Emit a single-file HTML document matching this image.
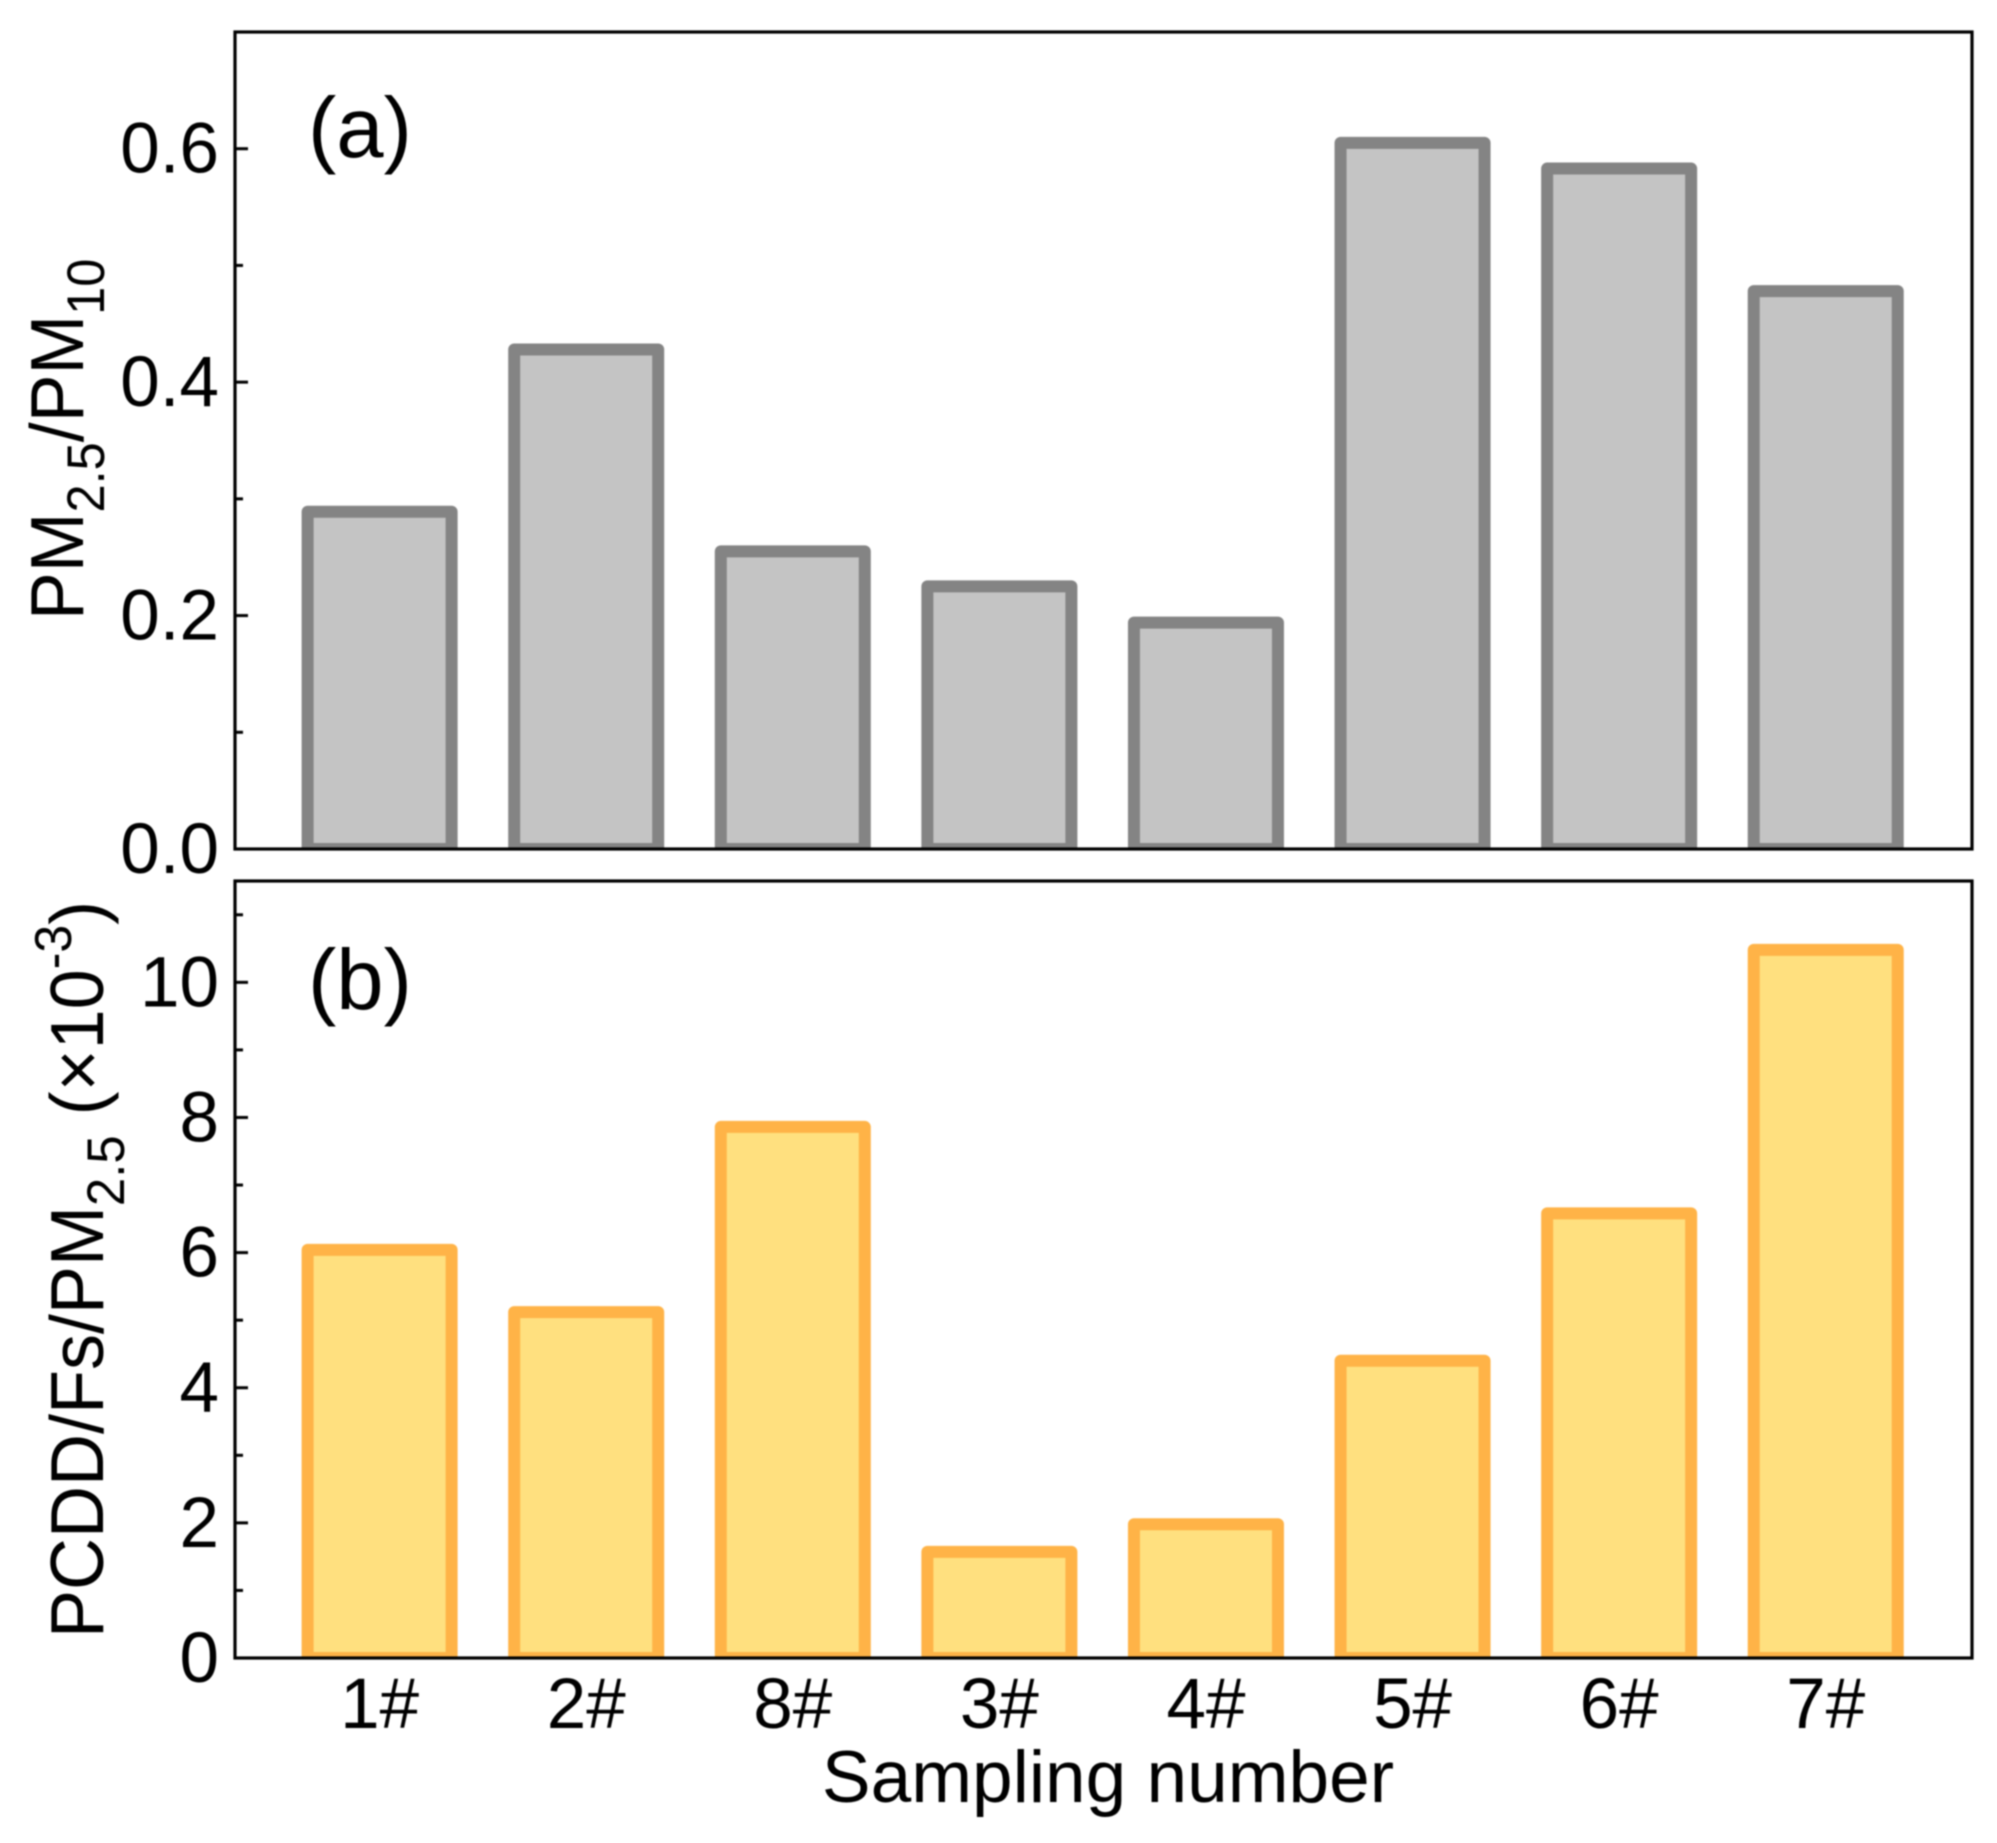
<!DOCTYPE html>
<html>
<head>
<meta charset="utf-8">
<title>PM ratio bar charts</title>
<style>
html,body{margin:0;padding:0;background:#fff;}
svg{display:block;filter:blur(0.7px);}
text{font-family:"Liberation Sans",sans-serif;fill:#000;}
</style>
</head>
<body>
<svg id="chart" xmlns="http://www.w3.org/2000/svg" width="1997" height="1843" viewBox="0 0 1997 1843">
  <rect width="1997" height="1843" fill="#ffffff"/>
  <defs>
    <clipPath id="clip-a"><rect x="235" y="32" width="1737" height="817"/></clipPath>
    <clipPath id="clip-b"><rect x="235" y="881" width="1737" height="777"/></clipPath>
  </defs>
  <g id="layer-bars"></g>
  <g id="layer-axes"></g>
  <text x="308" y="157" font-size="85">(a)</text>
  <text x="308" y="1009" font-size="85">(b)</text>
  <text transform="translate(83,620) rotate(-90) scale(0.955,1)" font-size="75">PM<tspan font-size="53" dy="21">2.5</tspan><tspan dy="-21">/PM</tspan><tspan font-size="53" dy="21">10</tspan></text>
  <text transform="translate(103,1638) rotate(-90) scale(0.96,1)" font-size="75">PCDD/Fs/PM<tspan font-size="53" dy="21">2.5</tspan><tspan dy="-21"> (×10</tspan><tspan font-size="52" dy="-32">-3</tspan><tspan dy="32">)</tspan></text>
  <text x="1108" y="1802" font-size="73" text-anchor="middle">Sampling number</text>
</svg>
<script>
const categories = ['1#', '2#', '8#', '3#', '4#', '5#', '6#', '7#'];
const ratioValues = [0.289, 0.428, 0.255, 0.225, 0.194, 0.605, 0.583, 0.478];
const pcddValues = [6.04, 5.12, 7.86, 1.57, 1.98, 4.40, 6.58, 10.48];
const ratioMajorTicks = [0, 0.2, 0.4, 0.6];
const ratioMinorTicks = [0.1, 0.3, 0.5];
const ratioTickLabels = ['0.0', '0.2', '0.4', '0.6'];
const pcddMajorTicks = [0, 2, 4, 6, 8, 10];
const pcddMinorTicks = [1, 3, 5, 7, 9, 11];
const pcddTickLabels = ['0', '2', '4', '6', '8', '10'];

const NS = 'http://www.w3.org/2000/svg';
const barsLayer = document.getElementById('layer-bars');
const axesLayer = document.getElementById('layer-axes');
const plotLeft = 235, plotRight = 1972;
const xStep = (plotRight - plotLeft) / 8.408;
const barWidth = 144;
function xScale(i) { return plotLeft + (i + 0.7) * xStep; }
function yScaleA(v) { return 849 - (v / 0.7) * (849 - 32); }
function yScaleB(v) { return 1658 - (v / 11.5) * (1658 - 881); }

function drawPanel(key, values, yScale, top, bottom, stroke, fill, major, minor, labels) {
  values.forEach(function (v, i) {
    const bar = document.createElementNS(NS, 'rect');
    
    
    bar.setAttribute('x', xScale(i) - barWidth / 2);
    bar.setAttribute('y', yScale(v));
    bar.setAttribute('width', barWidth);
    bar.setAttribute('height', bottom - yScale(v));
    bar.setAttribute('fill', fill);
    bar.setAttribute('stroke', stroke);
    bar.setAttribute('stroke-width', '12');
    bar.setAttribute('stroke-linejoin', 'round');
    bar.setAttribute('clip-path', 'url(#clip-' + key + ')');
    barsLayer.appendChild(bar);
  });

  const frame = document.createElementNS(NS, 'rect');
  
  
  frame.setAttribute('x', plotLeft);
  frame.setAttribute('y', top);
  frame.setAttribute('width', plotRight - plotLeft);
  frame.setAttribute('height', bottom - top);
  frame.setAttribute('fill', 'none');
  frame.setAttribute('stroke', '#000');
  frame.setAttribute('stroke-width', '3.2');
  axesLayer.appendChild(frame);

  major.forEach(function (v, i) {
    const tick = document.createElementNS(NS, 'line');
    
    
    tick.setAttribute('x1', plotLeft);
    tick.setAttribute('x2', plotLeft + 13);
    tick.setAttribute('y1', yScale(v));
    tick.setAttribute('y2', yScale(v));
    tick.setAttribute('stroke', '#000');
    tick.setAttribute('stroke-width', '3');
    axesLayer.appendChild(tick);

    const label = document.createElementNS(NS, 'text');
    
    
    label.setAttribute('x', 219);
    label.setAttribute('y', yScale(v) + 24);
    label.setAttribute('font-size', '71');
    label.setAttribute('text-anchor', 'end');
    label.textContent = labels[i];
    axesLayer.appendChild(label);
  });

  minor.forEach(function (v) {
    const tick = document.createElementNS(NS, 'line');
    
    
    tick.setAttribute('x1', plotLeft);
    tick.setAttribute('x2', plotLeft + 8);
    tick.setAttribute('y1', yScale(v));
    tick.setAttribute('y2', yScale(v));
    tick.setAttribute('stroke', '#000');
    tick.setAttribute('stroke-width', '3');
    axesLayer.appendChild(tick);
  });
}

drawPanel('a', ratioValues, yScaleA, 32, 849, '#848484', '#c4c4c4', ratioMajorTicks, ratioMinorTicks, ratioTickLabels);
drawPanel('b', pcddValues, yScaleB, 881, 1658, '#ffb347', '#ffe07f', pcddMajorTicks, pcddMinorTicks, pcddTickLabels);

categories.forEach(function (c, i) {
  const label = document.createElementNS(NS, 'text');
  
  
  label.setAttribute('x', xScale(i));
  label.setAttribute('y', 1728);
  label.setAttribute('font-size', '71');
  label.setAttribute('text-anchor', 'middle');
  label.textContent = c;
  axesLayer.appendChild(label);
});
</script>
</body>
</html>
